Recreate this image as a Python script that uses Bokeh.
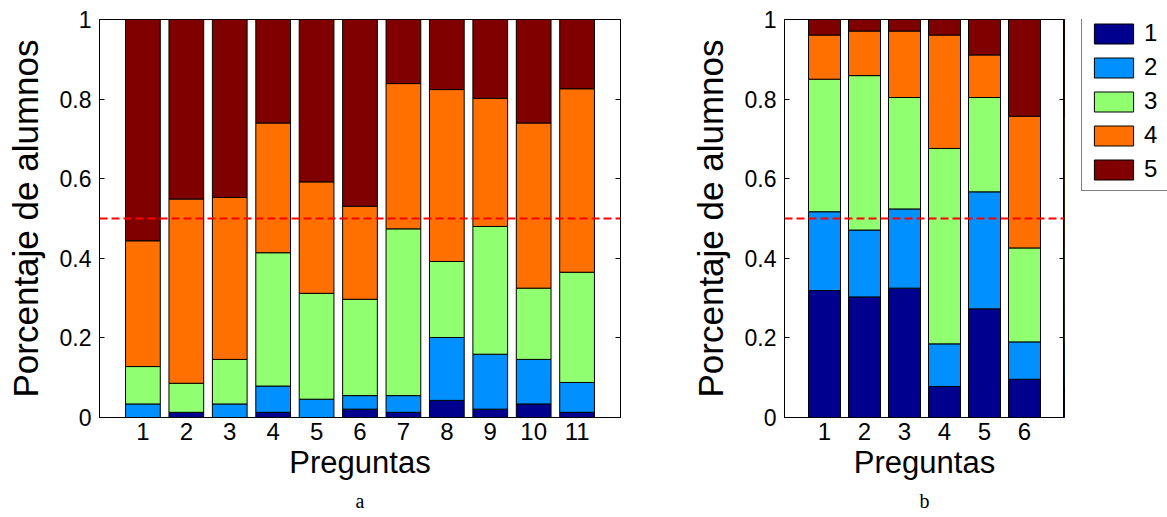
from bokeh.plotting import figure
from bokeh.models import (FixedTicker, LinearAxis, Span, Legend, LegendItem, Title,
                          CustomJSTickFormatter, ColumnDataSource)
from bokeh.layouts import row
from bokeh.embed import file_html
from bokeh.resources import INLINE

# ---------------- data ----------------
levels = ["1", "2", "3", "4", "5"]
colors = ["#00008F", "#0090FF", "#90FF70", "#FF7000", "#800000"]

preguntas_a = [1, 2, 3, 4, 5, 6, 7, 8, 9, 10, 11]
a_n1 = [0.000, 0.013, 0.000, 0.013, 0.000, 0.021, 0.013, 0.043, 0.021, 0.034, 0.013]
a_n2 = [0.034, 0.000, 0.034, 0.066, 0.046, 0.034, 0.042, 0.158, 0.138, 0.112, 0.075]
a_n3 = [0.094, 0.073, 0.112, 0.335, 0.266, 0.242, 0.419, 0.191, 0.321, 0.179, 0.277]
a_n4 = [0.316, 0.463, 0.407, 0.326, 0.280, 0.234, 0.365, 0.432, 0.322, 0.415, 0.461]
a_n5 = [0.556, 0.451, 0.447, 0.260, 0.408, 0.469, 0.161, 0.176, 0.198, 0.260, 0.174]

preguntas_b = [1, 2, 3, 4, 5, 6]
b_n1 = [0.319, 0.303, 0.325, 0.078, 0.273, 0.096]
b_n2 = [0.198, 0.168, 0.199, 0.107, 0.294, 0.094]
b_n3 = [0.333, 0.388, 0.280, 0.491, 0.237, 0.236]
b_n4 = [0.111, 0.112, 0.167, 0.285, 0.107, 0.331]
b_n5 = [0.039, 0.029, 0.029, 0.039, 0.089, 0.243]

y_ticks = [0, 0.2, 0.4, 0.6, 0.8, 1]
y_tick_labels = ["0", "0.2", "0.4", "0.6", "0.8", "1"]
threshold = 0.5

FONT = "Liberation Sans"
SERIF = "Liberation Serif"


def make_source(pregs, series):
    data = {"x": pregs}
    for lv, s in zip(levels, series):
        data["s" + lv] = s
    return ColumnDataSource(data)


def make_panel(pregs, series, width, left_border, right_border, sub):
    n = len(pregs)
    p = figure(width=width, height=517, x_range=(0, n + 1), y_range=(0, 1),
               output_backend="svg", toolbar_location=None,
               min_border_left=left_border, min_border_right=right_border,
               min_border_top=19, min_border_bottom=100)
    src = make_source(pregs, series)
    p.vbar_stack(["s" + lv for lv in levels], x="x", width=0.8, source=src,
                 color=colors, line_color="black", line_width=1)
    p.add_layout(Span(location=threshold, dimension="width", line_color="red",
                      line_width=2, line_dash="8 4"))

    p.xgrid.visible = False
    p.ygrid.visible = False
    p.outline_line_color = "black"
    p.outline_line_alpha = 1
    p.background_fill_color = "white"
    p.border_fill_color = "white"

    xa = p.xaxis[0]
    xa.ticker = FixedTicker(ticks=pregs)
    xa.major_tick_in = 0
    xa.major_tick_out = 0
    xa.minor_tick_line_color = None
    xa.axis_line_color = "black"
    xa.major_label_text_font = FONT
    xa.major_label_text_font_size = "24px"
    xa.major_label_text_color = "black"
    xa.major_label_standoff = 5
    xa.axis_label = "Preguntas"
    xa.axis_label_text_font = FONT
    xa.axis_label_text_font_size = "31px"
    xa.axis_label_text_font_style = "normal"
    xa.axis_label_text_color = "black"
    xa.axis_label_standoff = 2

    ya = p.yaxis[0]
    ya.ticker = FixedTicker(ticks=y_ticks)
    ya.major_label_overrides = dict(zip(y_ticks, y_tick_labels))
    ya.major_tick_in = 5
    ya.major_tick_out = 0
    ya.minor_tick_line_color = None
    ya.axis_line_color = "black"
    ya.major_label_text_font = FONT
    ya.major_label_text_font_size = "23px"
    ya.major_label_text_color = "black"
    ya.major_label_standoff = 8
    ya.axis_label = "Porcentaje de alumnos"
    ya.axis_label_text_font = FONT
    ya.axis_label_text_font_size = "35px"
    ya.axis_label_text_font_style = "normal"
    ya.axis_label_text_color = "black"
    ya.axis_label_standoff = 12

    ra = LinearAxis(ticker=FixedTicker(ticks=y_ticks),
                    formatter=CustomJSTickFormatter(code="return ''"),
                    major_tick_in=5, major_tick_out=0, minor_tick_line_color=None,
                    axis_line_color="black", major_label_standoff=0)
    p.add_layout(ra, "right")

    t = Title(text=sub, align="center", text_font=SERIF, text_font_size="20px",
              text_font_style="normal", text_color="black", standoff=11)
    p.add_layout(t, "below")
    return p


p1 = make_panel(preguntas_a, [a_n1, a_n2, a_n3, a_n4, a_n5], 640, 99, 20, "a")
p2 = make_panel(preguntas_b, [b_n1, b_n2, b_n3, b_n4, b_n5], 424, 144, 0, "b")

# legend panel: same series drawn out of view so only the legend shows
p3 = figure(width=103, height=517, x_range=(100, 101), y_range=(0, 1),
            output_backend="svg", toolbar_location=None,
            x_axis_location=None, y_axis_location=None,
            min_border_left=0, min_border_right=0, min_border_top=0, min_border_bottom=0)
p3.xgrid.visible = False
p3.ygrid.visible = False
p3.outline_line_color = None
p3.border_fill_color = "white"
src_leg = make_source(preguntas_b, [b_n1, b_n2, b_n3, b_n4, b_n5])
rs3 = p3.vbar_stack(["s" + lv for lv in levels], x="x", width=0.8, source=src_leg,
                    color=colors, line_color="black", line_width=1)

legend = Legend(items=[LegendItem(label=lv, renderers=[r]) for lv, r in zip(levels, rs3)],
                location=(17, 226), margin=0, padding=7, spacing=6,
                glyph_width=49, glyph_height=25, label_standoff=6,
                label_text_font=FONT, label_text_font_size="24px",
                label_text_color="black", border_line_color="black",
                border_line_width=1, background_fill_color="white",
                background_fill_alpha=1)
p3.add_layout(legend, "center")

layout = row(p1, p2, p3)
open("out.html", "w").write(file_html(layout, INLINE))
